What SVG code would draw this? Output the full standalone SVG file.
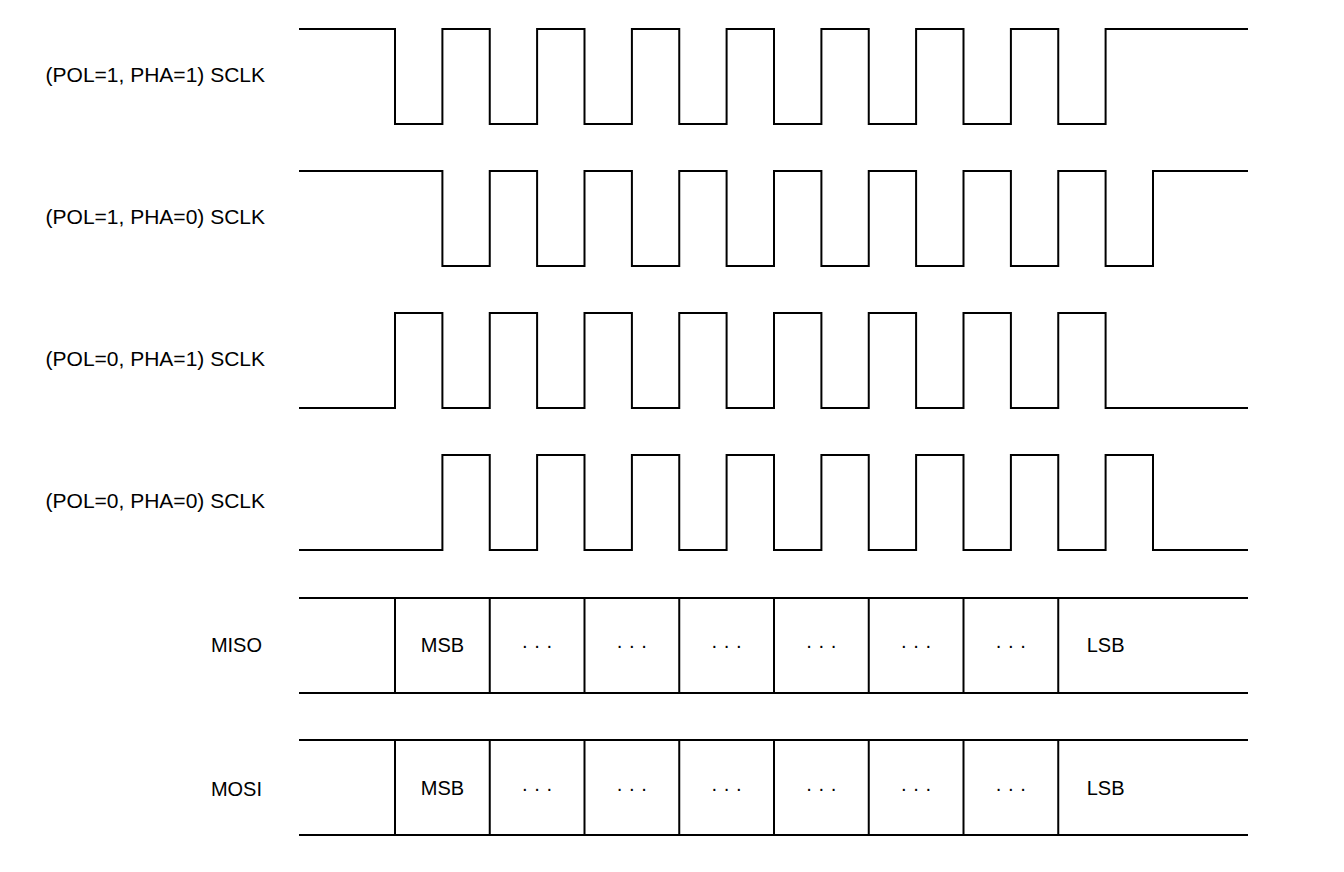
<svg xmlns="http://www.w3.org/2000/svg" width="1344" height="872" viewBox="0 0 1344 872">
<style>
.w{fill:none;stroke:#000;stroke-width:2;stroke-linejoin:miter;stroke-linecap:square}
.t{font-family:"Liberation Sans",Arial,Helvetica,sans-serif;font-size:20px;fill:#000}
.big{font-size:21px}
.lab{text-anchor:end}
.c{text-anchor:middle}
</style>
<rect width="1344" height="872" fill="#fff"/>
<g id="label-pol1pha1"><text class="t big lab" x="265" y="82">(POL=1, PHA=1) SCLK</text></g>
<g id="label-pol1pha0"><text class="t big lab" x="265" y="224">(POL=1, PHA=0) SCLK</text></g>
<g id="label-pol0pha1"><text class="t big lab" x="265" y="366">(POL=0, PHA=1) SCLK</text></g>
<g id="label-pol0pha0"><text class="t big lab" x="265" y="508">(POL=0, PHA=0) SCLK</text></g>
<g id="label-miso"><text class="t lab" x="262" y="652">MISO</text></g>
<g id="label-mosi"><text class="t lab" x="262" y="796">MOSI</text></g>
<g id="connectors">
<path id="wave-pol1pha1" class="w" d="M300 29H395V124H442.4V29H489.75V124H537.1V29H584.5V124H631.9V29H679.25V124H726.6V29H774V124H821.4V29H868.75V124H916.1V29H963.5V124H1010.9V29H1058.25V124H1105.6V29H1247"/>
<path id="wave-pol1pha0" class="w" d="M300 171H442.4V266H489.75V171H537.1V266H584.5V171H631.9V266H679.25V171H726.6V266H774V171H821.4V266H868.75V171H916.1V266H963.5V171H1010.9V266H1058.25V171H1105.6V266H1153V171H1247"/>
<path id="wave-pol0pha1" class="w" d="M300 408H395V313H442.4V408H489.75V313H537.1V408H584.5V313H631.9V408H679.25V313H726.6V408H774V313H821.4V408H868.75V313H916.1V408H963.5V313H1010.9V408H1058.25V313H1105.6V408H1247"/>
<path id="wave-pol0pha0" class="w" d="M300 550H442.4V455H489.75V550H537.1V455H584.5V550H631.9V455H679.25V550H726.6V455H774V550H821.4V455H868.75V550H916.1V455H963.5V550H1010.9V455H1058.25V550H1105.6V455H1153V550H1247"/>
</g>
<g id="miso">
<path class="w" d="M300 598H1247M300 693H1247M395 598V693M489.75 598V693M584.5 598V693M679.25 598V693M774 598V693M868.75 598V693M963.5 598V693M1058.25 598V693"/>
<text class="t c" x="442.4" y="652">MSB</text>
<text class="t c" x="537.1" y="652">· · ·</text>
<text class="t c" x="631.9" y="652">· · ·</text>
<text class="t c" x="726.6" y="652">· · ·</text>
<text class="t c" x="821.4" y="652">· · ·</text>
<text class="t c" x="916.1" y="652">· · ·</text>
<text class="t c" x="1010.9" y="652">· · ·</text>
<text class="t c" x="1105.6" y="652">LSB</text>
</g>
<g id="mosi">
<path class="w" d="M300 740H1247M300 835H1247M395 740V835M489.75 740V835M584.5 740V835M679.25 740V835M774 740V835M868.75 740V835M963.5 740V835M1058.25 740V835"/>
<text class="t c" x="442.4" y="795">MSB</text>
<text class="t c" x="537.1" y="795">· · ·</text>
<text class="t c" x="631.9" y="795">· · ·</text>
<text class="t c" x="726.6" y="795">· · ·</text>
<text class="t c" x="821.4" y="795">· · ·</text>
<text class="t c" x="916.1" y="795">· · ·</text>
<text class="t c" x="1010.9" y="795">· · ·</text>
<text class="t c" x="1105.6" y="795">LSB</text>
</g>
</svg>
